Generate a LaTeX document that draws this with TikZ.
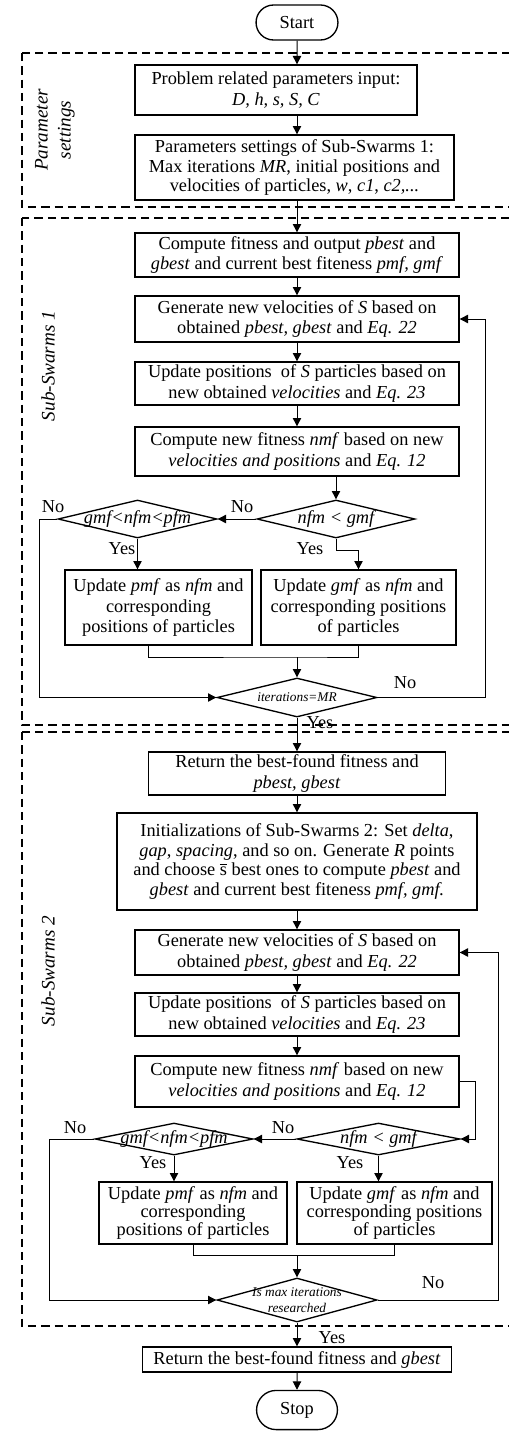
\documentclass[tikz,border=0pt]{standalone}
\usepackage{fontspec}
\setmainfont{Liberation Serif}
\usetikzlibrary{arrows.meta, shapes.geometric, shapes.misc}

\begin{document}
\begin{tikzpicture}[x=0.6pt, y=-0.6pt,
    box/.style={draw, line width=0.8pt, align=center, inner sep=1pt,
                font=\fontsize{11}{12.5}\selectfont},
    dia/.style={draw, diamond, line width=0.8pt, inner sep=0pt},
    dtxt/.style={font=\fontsize{11}{12}\itshape, align=center, inner sep=0pt},
    dsmall/.style={font=\fontsize{8}{9.5}\itshape, align=center, inner sep=0pt},
    term/.style={draw, rounded rectangle, line width=0.8pt,
                 font=\fontsize{11}{12}\selectfont},
    lbl/.style={font=\fontsize{11}{12}\selectfont, inner sep=0pt},
    side/.style={rotate=90, align=center, font=\fontsize{11.5}{13.8}\itshape},
    zone/.style={dash pattern=on 5pt off 3pt, line width=0.7pt}]

\useasboundingbox (0,0) rectangle (509,1431);

% dashed frames
\draw[zone] (22,53) rectangle (512,207);
\draw[zone] (22,218) rectangle (512,725);
\draw[zone] (22,732) rectangle (512,1326);

\node[side] (lpar) at (55,130) {Parameter\\settings};
\node[side] (lss1) at (48,366) {Sub-Swarms 1};
\node[side] (lss2) at (48,971) {Sub-Swarms 2};

% parameter settings
\node[term, minimum width=55.8pt, minimum height=21pt] (start) at (297,22.5) {Start};
\node[box, minimum width=169.2pt, minimum height=30pt] (input) at (276,90)
    {Problem related parameters input:\\ \textit{D, h, s, S, C}};
\node[box, minimum width=191.4pt, minimum height=39pt,
      font=\fontsize{11}{11.5}\selectfont] (pset1) at (294.5,167.5)
    {Parameters settings of Sub-Swarms 1:\\ Max iterations \textit{MR}, initial positions and\\
     velocities of particles, \textit{w}, \textit{c1}, \textit{c2,...}};

% sub-swarms 1
\begin{scope}[every node/.append style={font=\fontsize{11}{13}\selectfont}]
\node[box, minimum width=194.4pt, minimum height=26.4pt] (fit1) at (297,255)
    {Compute fitness and output \textit{pbest} and\\ \textit{gbest} and current best fiteness \textit{pmf, gmf}};
\node[box, minimum width=194.4pt, minimum height=27.6pt] (vel1) at (297,319)
    {Generate new velocities of \textit{S} based on\\ obtained \textit{pbest, gbest} and \textit{Eq. 22}};
\node[box, minimum width=194.4pt, minimum height=25.8pt] (pos1) at (297,383.5)
    {Update positions\ \ of \textit{S} particles based on\\ new obtained \textit{velocities} and \textit{Eq. 23}};
\node[box, minimum width=194.4pt, minimum height=29.4pt] (nfit1) at (297,451.5)
    {Compute new fitness \textit{nmf} based on new\\ \textit{velocities and positions} and \textit{Eq. 12}};
\node[box, minimum width=112.2pt, minimum height=45pt] (upp1) at (158.5,607.5)
    {Update \textit{pmf} as \textit{nfm} and\\ corresponding\\ positions of particles};
\node[box, minimum width=117pt, minimum height=45pt] (upg1) at (358.5,607.5)
    {Update \textit{gmf} as \textit{nfm} and\\ corresponding positions\\ of particles};
\end{scope}
\node[dia, minimum width=94.8pt, minimum height=22.8pt,
      label={[dtxt]center:nfm < gmf}] (cg1) at (336,519) {};
\node[dia, minimum width=95.4pt, minimum height=22.8pt,
      label={[dtxt]center:gmf<nfm<pfm}] (cp1) at (137.5,519) {};
\node[dia, minimum width=96pt, minimum height=23.4pt,
      label={[dsmall]center:iterations=MR}] (it1) at (297,697.5) {};
\coordinate (m1) at (297,657);

% sub-swarms 2
\node[box, minimum width=178.2pt, minimum height=25.8pt] (ret1) at (297,773.5)
    {Return the best-found fitness and\\ \textit{pbest, gbest}};
\node[box, minimum width=216pt, minimum height=58.2pt,
      font=\fontsize{11}{11.7}\selectfont] (init2) at (297,861.5)
    {Initializations of Sub-Swarms 2: Set \textit{delta},\\
     \textit{gap}, \textit{spacing}, and so on. Generate \textit{R} points\\
     and choose $\overline{\mbox{s}}$ best ones to compute \textit{pbest} and\\
     \textit{gbest} and current best fiteness \textit{pmf, gmf.}};
\node[box, minimum width=194.4pt, minimum height=27pt] (vel2) at (297,952.5)
    {Generate new velocities of \textit{S} based on\\ obtained \textit{pbest, gbest} and \textit{Eq. 22}};
\node[box, minimum width=194.4pt, minimum height=25.8pt] (pos2) at (297,1014.5)
    {Update positions\ \ of \textit{S} particles based on\\ new obtained \textit{velocities} and \textit{Eq. 23}};
\node[box, minimum width=194.4pt, minimum height=30.6pt] (nfit2) at (297,1081.5)
    {Compute new fitness \textit{nmf} based on new\\ \textit{velocities and positions} and \textit{Eq. 12}};
\node[dia, minimum width=97.8pt, minimum height=19.2pt,
      label={[dtxt]center:nfm < gmf}] (cg2) at (378.5,1139) {};
\node[dia, minimum width=94.8pt, minimum height=19.2pt,
      label={[dtxt]center:gmf<nfm<pfm}] (cp2) at (174,1139) {};
\node[box, minimum width=112.8pt, minimum height=37.2pt,
      font=\fontsize{11}{11}\selectfont] (upp2) at (193,1213)
    {Update \textit{pmf} as \textit{nfm} and\\ corresponding\\ positions of particles};
\node[box, minimum width=117pt, minimum height=37.2pt,
      font=\fontsize{11}{11}\selectfont] (upg2) at (394.5,1213)
    {Update \textit{gmf} as \textit{nfm} and\\ corresponding positions\\ of particles};
\node[dia, minimum width=96pt, minimum height=26.4pt,
      label={[dsmall]center:Is max iterations\\researched}] (it2) at (297,1300) {};
\coordinate (m2) at (297,1255);

% end
\node[box, minimum width=185.4pt, minimum height=15pt] (ret2) at (297,1359.5)
    {Return the best-found fitness and \textit{gbest}};
\node[term, minimum width=55.2pt, minimum height=23.5pt] (stop) at (297,1410) {Stop};

% yes / no
\node[lbl] (no1) at (242,507) {No};
\node[lbl] (no2) at (53,507) {No};
\node[lbl] (yes1) at (122,549) {Yes};
\node[lbl] (yes2) at (310,549) {Yes};
\node[lbl] (no3) at (405,683) {No};
\node[lbl] (yes3) at (320,723) {Yes};
\node[lbl] (no4) at (283,1128) {No};
\node[lbl] (no5) at (75,1128) {No};
\node[lbl] (yes4) at (153,1163) {Yes};
\node[lbl] (yes5) at (350,1163) {Yes};
\node[lbl] (no6) at (433,1283) {No};
\node[lbl] (yes6) at (332,1338) {Yes};

\begin{scope}[>={Triangle[length=5pt,width=5pt]}, line width=0.6pt]
    \draw[->] (start) -- (input.north -| start);
    \draw[->] (input.south -| start) -- (pset1.north -| start);
    \draw[->] (pset1.south -| fit1) -- (fit1);
    \draw[->] (fit1) -- (vel1);
    \draw[->] (vel1) -- (pos1);
    \draw[->] (pos1) -- (nfit1);
    \draw[->] (nfit1.south -| cg1) -- (cg1);
    \draw[->] (cg1.west) -- (cp1.east);
    \draw[->] (cp1.south) -- (cp1.south |- upp1.north);
    \draw[->] (cg1.south) -- ++(0,12) -| (upg1.north);
    \draw ([xshift=-6.3pt]upp1.south) |- (m1) -| (upg1.south);
    \draw[->] (m1) -- (it1);
    \draw[->] (cp1.west) -- ++(-18,0) |- (it1.west);
    \draw[->] (it1.east) -- ++(108,0) |- (vel1.east);
    \draw[->] (it1) -- (ret1);
    \draw[->] (ret1) -- (init2);
    \draw[->] (init2) -- (vel2);
    \draw[->] (vel2) -- (pos2);
    \draw[->] (pos2) -- (nfit2);
    \draw[->] (nfit2.east) -- ++(16,0) |- (cg2.east);
    \draw[->] (cg2.west) -- (cp2.east);
    \draw[->] (cp2.south) -- (cp2.south |- upp2.north);
    \draw[->] (cg2.south) -- (cg2.south |- upg2.north);
    \draw (upp2.south) |- (m2) -| (upg2.south);
    \draw[->] (m2) -- (it2);
    \draw[->] (cp2.west) -- ++(-45,0) |- (it2.west);
    \draw[->] (it2.east) -- ++(121,0) |- (vel2.east);
    \draw[->] (it2) -- (ret2);
    \draw[->] (ret2) -- (stop);
\end{scope}
\end{tikzpicture}
\end{document}
